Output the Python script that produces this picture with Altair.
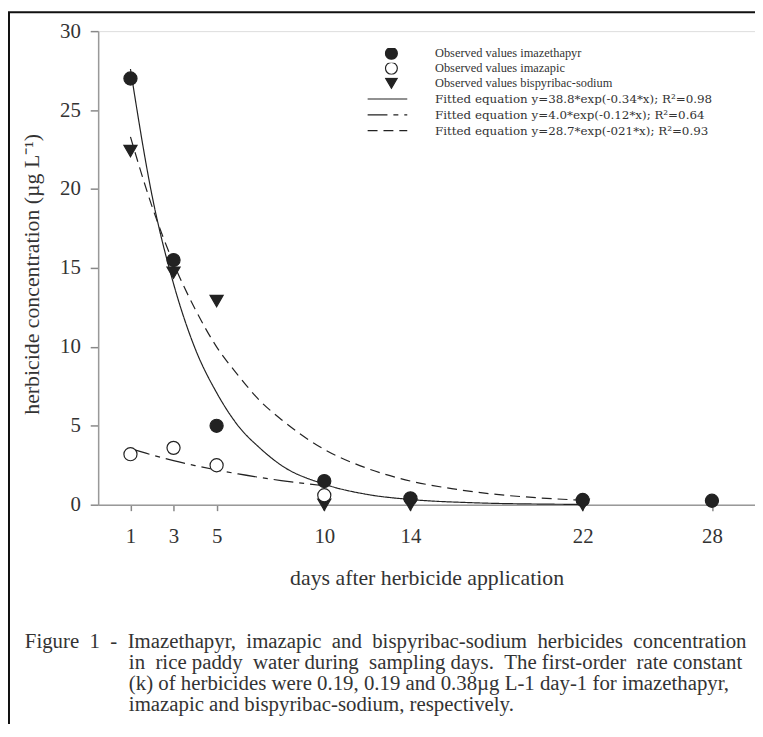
import altair as alt
import pandas as pd

# ---------------- data ----------------
day_ticks = [1, 3, 5, 10, 14, 22, 28]

obs_names = [
    "Observed values imazethapyr",
    "Observed values imazapic",
    "Observed values bispyribac-sodium",
]
fit_names = [
    "Fitted equation y=38.8*exp(-0.34*x); R\u00b2=0.98",
    "Fitted equation y=4.0*exp(-0.12*x); R\u00b2=0.64",
    "Fitted equation y=28.7*exp(-021*x); R\u00b2=0.93",
]

days_imazethapyr = [1, 3, 5, 10, 14, 22, 28]
obs_imazethapyr = [27.0, 15.5, 5.0, 1.5, 0.4, 0.3, 0.25]
days_imazapic = [1, 3, 5, 10]
obs_imazapic = [3.2, 3.6, 2.5, 0.6]
days_bispyribac = [1, 3, 5, 10, 14, 22]
obs_bispyribac = [22.4, 14.7, 12.9, 0.0, 0.0, 0.0]

fit_days_imazethapyr = [1, 2, 3, 4, 5, 6, 7, 8, 10, 12, 14, 17, 20, 22]
fit_imazethapyr = [27.6, 19.6, 14.0, 9.9, 7.1, 5.0, 3.6, 2.5, 1.3, 0.65, 0.33, 0.12, 0.04, 0.02]
fit_days_imazapic = [1, 2, 3, 4, 5, 6, 7, 8, 10]
fit_imazapic = [3.55, 3.15, 2.79, 2.48, 2.20, 1.95, 1.73, 1.53, 1.20]
fit_days_bispyribac = [1, 2, 3, 4, 5, 6, 7, 8, 10, 12, 14, 16, 18, 20, 22]
fit_bispyribac = [23.3, 18.9, 15.3, 12.4, 10.0, 8.2, 6.6, 5.4, 3.5, 2.3, 1.5, 1.0, 0.65, 0.43, 0.28]

caption_lines = [
    "Figure 1 - Imazethapyr, imazapic and bispyribac-sodium herbicides concentration",
    "in rice paddy water during sampling days. The first-order rate constant",
    "(k) of herbicides were 0.19, 0.19 and 0.38\u00b5g L-1 day-1 for imazethapyr,",
    "imazapic and bispyribac-sodium, respectively.",
]

# ---------------- tables (drawing order: triangles, open, filled) ----------------
obs = pd.concat([
    pd.DataFrame({"day": days_bispyribac, "value": obs_bispyribac, "series": obs_names[2]}),
    pd.DataFrame({"day": days_imazapic, "value": obs_imazapic, "series": obs_names[1]}),
    pd.DataFrame({"day": days_imazethapyr, "value": obs_imazethapyr, "series": obs_names[0]}),
], ignore_index=True)
fits = pd.concat([
    pd.DataFrame({"day": fit_days_imazethapyr, "value": fit_imazethapyr, "fit": fit_names[0]}),
    pd.DataFrame({"day": fit_days_imazapic, "value": fit_imazapic, "fit": fit_names[1]}),
    pd.DataFrame({"day": fit_days_bispyribac, "value": fit_bispyribac, "fit": fit_names[2]}),
], ignore_index=True)

FONT = "Liberation Serif"
INK = "#222222"
TXT = "#333333"
W, H = 663, 478

x_scale = alt.Scale(domain=[-0.5, 30], nice=False, zero=False)
y_scale = alt.Scale(domain=[0, 30], nice=False)

x_axis = alt.Axis(
    values=day_ticks, title="days after herbicide application", grid=False,
    labelFont=FONT, labelFontSize=21, labelColor=TXT, labelPadding=15,
    tickSize=6, tickColor="#888", tickWidth=1.5, domainColor="#999", domainWidth=1.5,
    titleFont=FONT, titleFontSize=22, titleFontWeight="normal", titleColor=TXT,
    titleY=74, titleBaseline="middle",
)
y_axis = alt.Axis(
    values=[0, 5, 10, 15, 20, 25, 30], title="herbicide concentration (\u00b5g L\u207b\u00b9)", grid=False,
    labelFont=FONT, labelFontSize=21, labelColor=TXT, labelPadding=10,
    tickSize=8, tickColor="#888", tickWidth=1.5, domainColor="#999", domainWidth=1.5,
    titleFont=FONT, titleFontSize=22, titleFontWeight="normal", titleColor=TXT,
    titleX=-67, titleY=245, titleAngle=-90, titleAlign="center", titleBaseline="middle",
)

lines = alt.Chart(fits).mark_line(strokeWidth=1.2, color=INK, interpolate="monotone").encode(
    x=alt.X("day:Q", scale=x_scale, axis=x_axis),
    y=alt.Y("value:Q", scale=y_scale, axis=y_axis),
    detail="fit:N",
    strokeDash=alt.StrokeDash(
        "fit:N",
        scale=alt.Scale(domain=fit_names, range=[[1, 0], [20, 6, 5, 6], [10, 6]]),
        legend=alt.Legend(
            title=None, orient="none", legendX=271, legendY=63, padding=0, clipHeight=11,
            symbolType="stroke", symbolSize=1600, symbolStrokeWidth=1.2,
            symbolStrokeColor=INK, labelOffset=27, rowPadding=3,
            labelFont="DejaVu Serif", labelFontSize=12, labelColor=TXT, labelLimit=600,
        ),
    ),
)

shape_legend = alt.Legend(
    title=None, orient="none", legendX=289, legendY=17, padding=0, clipHeight=11,
    symbolSize=144, symbolStrokeWidth=1.2, symbolStrokeColor=INK,
    labelOffset=37, rowPadding=2,
    labelFont=FONT, labelFontSize=12.5, labelColor=TXT, labelLimit=600,
)

points = alt.Chart(obs).mark_point(filled=True, size=175, strokeWidth=1.2, opacity=1).encode(
    x=alt.X("day:Q", scale=x_scale),
    y=alt.Y("value:Q", scale=y_scale),
    shape=alt.Shape(
        "series:N",
        scale=alt.Scale(domain=obs_names, range=["circle", "circle", "triangle-down"]),
        legend=shape_legend,
    ),
    fill=alt.Fill(
        "series:N",
        scale=alt.Scale(domain=obs_names, range=[INK, "white", INK]),
        legend=shape_legend,
    ),
    stroke=alt.Stroke(
        "series:N",
        scale=alt.Scale(domain=obs_names, range=[INK, INK, INK]),
        legend=shape_legend,
    ),
)

frame = alt.Chart(alt.Data(values=[{}])).mark_rect(
    filled=False, stroke="#111", strokeWidth=2
).encode(
    x=alt.value(-90), x2=alt.value(W + 40), y=alt.value(-19), y2=alt.value(H + 400)
)

# justified caption: widen word gaps with no-break spaces (kept by SVG)
NB = "\u00a0"


def widen(text, every=1):
    words = text.split(" ")
    out = words[0]
    for i, w in enumerate(words[1:]):
        out += (" " + NB if i % every == 0 else " ") + w
    return out


caption_text = [
    widen(caption_lines[0], 1),
    widen(caption_lines[1], 2),
    caption_lines[2],
    caption_lines[3],
]
caption_x = [-74, 31, 31, 31]
caption_y = [139, 160, 181, 202]
caption_layers = []
for line, cx, cy in zip(caption_text, caption_x, caption_y):
    caption_layers.append(
        alt.Chart(alt.Data(values=[{"t": line}])).mark_text(
            font=FONT, fontSize=21, color=TXT, align="left", baseline="middle"
        ).encode(text="t:N", x=alt.value(cx), y=alt.value(H + cy))
    )

chart = alt.layer(frame, lines, points, *caption_layers).properties(
    width=W, height=H,
    padding={"left": 91, "top": 20, "right": 0, "bottom": 218},
    autosize="none",
).configure_view(stroke="#999", strokeWidth=1.5).configure(background="white")

chart.save("out.html", embed_options={"renderer": "svg", "actions": False})
